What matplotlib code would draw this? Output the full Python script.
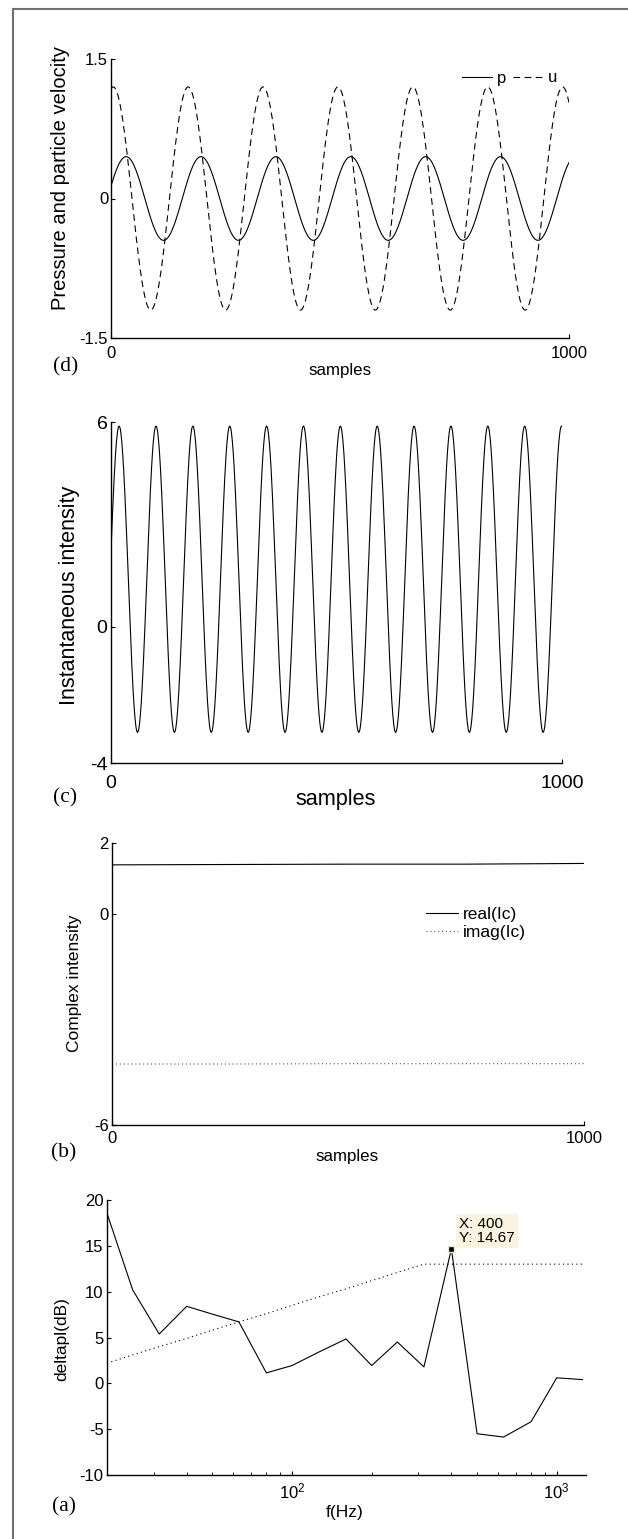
import numpy as np
import matplotlib
matplotlib.use('Agg')
import matplotlib.pyplot as plt
from matplotlib.lines import Line2D

plt.rcParams['font.family'] = ['Liberation Sans', 'DejaVu Sans']
plt.rcParams['mathtext.fontset'] = 'custom'
plt.rcParams['mathtext.rm'] = 'Liberation Sans'
plt.rcParams['axes.unicode_minus'] = False

# (d) pressure / particle velocity: amplitude, period (samples), sample of first peak
samples = np.arange(0, 1001)
p_amp, p_period, p_peak = 0.45, 163.5, 33
u_amp, u_period, u_peak = 1.2, 163.5, 5

# (c) instantaneous intensity
i_mean, i_amp, i_period, i_peak = 1.39, 4.49, 81.75, 18

# (b) complex intensity
ic_samples = [0, 250, 500, 750, 1000]
real_ic = [1.38, 1.39, 1.40, 1.40, 1.42]
imag_ic = [-4.27, -4.27, -4.26, -4.26, -4.26]

# (a) deltapI per third-octave band
freqs = [20, 25, 31.5, 40, 50, 63, 80, 100, 125, 160, 200, 250, 315,
         400, 500, 630, 800, 1000, 1250]
deltapl = [18.55, 10.2, 5.38, 8.4, 7.55, 6.7, 1.14, 1.94, 3.35, 4.84, 1.94,
           4.51, 1.79, 14.67, -5.5, -5.86, -4.19, 0.6, 0.41]
criterion = [2.2, 3.1, 4.0, 4.9, 5.8, 6.7, 7.6, 8.5, 9.4, 10.3, 11.2, 12.1,
             13.0, 13.0, 13.0, 13.0, 13.0, 13.0, 13.0]
tip_f, tip_val = 400, 14.67

W, H = 628, 1539
fig = plt.figure(figsize=(W / 100, H / 100), dpi=100)


def fx(x):
    return x / W


def fy(y):
    return 1 - y / H


def add_ax(l, r, t, b):
    return fig.add_axes([fx(l), fy(b), (r - l) / W, (b - t) / H])


def style(ax, tsize, xpad, ypad):
    for s in ['top', 'right']:
        ax.spines[s].set_visible(False)
    for s in ['left', 'bottom']:
        ax.spines[s].set_linewidth(1.0)
    ax.tick_params(direction='in', length=3, width=0.8, labelsize=tsize)
    ax.tick_params(axis='x', pad=xpad)
    ax.tick_params(axis='y', pad=ypad)


def labels(ax, xl, xs, xpos, yl, ys, ypos):
    ax.set_xlabel(xl, fontsize=xs)
    ax.set_ylabel(yl, fontsize=ys)
    ax.xaxis.label.set_va('center')
    ax.yaxis.label.set_va('center')
    ax.xaxis.set_label_coords(fx(xpos[0]), fy(xpos[1]), transform=fig.transFigure)
    ax.yaxis.set_label_coords(fx(ypos[0]), fy(ypos[1]), transform=fig.transFigure)


def letter(txt, x, y):
    fig.text(fx(x), fy(y), txt, family='Liberation Serif', fontsize=15.5,
             ha='center', va='center')


# ---- (d)
axd = add_ax(111, 569, 59, 338)
p = p_amp * np.cos(2 * np.pi * (samples - p_peak) / p_period)
u = u_amp * np.cos(2 * np.pi * (samples - u_peak) / u_period)
axd.plot(samples, p, color='black', lw=0.8, label='p')
axd.plot(samples, u, color='black', lw=0.8, dashes=(6, 4), label='u')
axd.set_xlim(0, 1000)
axd.set_ylim(-1.5, 1.5)
axd.set_xticks([0, 1000])
axd.set_yticks([-1.5, 0, 1.5])
axd.set_yticklabels(['-1.5', '0', '1.5'])
style(axd, 12, 6, 2)
labels(axd, 'samples', 12.2, (340, 370), 'Pressure and particle velocity', 14.5, (60, 178))
axd.legend(ncol=2, frameon=False, loc='center left', fontsize=12,
           bbox_to_anchor=(fx(462), fy(78)), bbox_transform=fig.transFigure,
           handlelength=1.8, handletextpad=0.3, columnspacing=0.4,
           borderpad=0, borderaxespad=0)
letter('(d)', 66, 367)

# ---- (c)
axc = add_ax(111, 562, 422, 763)
inst = i_mean + i_amp * np.cos(2 * np.pi * (samples - i_peak) / i_period)
axc.plot(samples, inst, color='black', lw=0.8)
axc.set_xlim(0, 1000)
axc.set_ylim(-4, 6)
axc.set_xticks([0, 1000])
axc.set_yticks([-4, 0, 6])
style(axc, 14, 9, 2.5)
labels(axc, 'samples', 15.6, (336, 800), 'Instantaneous intensity', 15.5, (70, 595))
letter('(c)', 65, 798)

# ---- (b)
axb = add_ax(112, 584, 843, 1125)
axb.plot(ic_samples, real_ic, color='black', lw=0.8, label='real(Ic)')
axb.plot(ic_samples, imag_ic, color='#555555', lw=0.8, linestyle=(0, (1, 2.5)),
         label='imag(Ic)')
axb.set_xlim(0, 1000)
axb.set_ylim(-6, 2)
axb.set_xticks([0, 1000])
axb.set_yticks([-6, 0, 2])
style(axb, 12, 4, 2.5)
labels(axb, 'samples', 12.2, (347, 1157), 'Complex intensity', 12.5, (74, 983))
axb.legend(frameon=False, loc='upper left', fontsize=12.5,
           bbox_to_anchor=(fx(426), fy(907)), bbox_transform=fig.transFigure,
           handlelength=1.85, handletextpad=0.25, labelspacing=0.15,
           borderpad=0, borderaxespad=0)
letter('(b)', 64, 1153)

# ---- (a)
axa = add_ax(107, 586, 1200, 1475)
axa.plot(freqs, deltapl, color='black', lw=0.8)
axa.plot(freqs, criterion, color='black', lw=0.8, linestyle=(0, (1, 3)))
axa.set_xscale('log')
axa.set_xlim(20, 1290)
axa.set_ylim(-10, 20)
axa.set_yticks(np.arange(-10, 21, 5))
style(axa, 12, 5, 2.5)
axa.tick_params(which='minor', direction='in', length=2, width=0.6)
labels(axa, 'f(Hz)', 12.5, (345, 1513), 'deltapl(dB)', 12.5, (62, 1339))
axa.plot([tip_f], [tip_val], marker='s', markersize=5, color='black',
         markeredgecolor='#efe6b8', markeredgewidth=1.0)
axa.annotate('X: %d\nY: %.2f' % (tip_f, tip_val), xy=(tip_f, tip_val),
             xytext=(8, 4), textcoords='offset pixels', ha='left', va='bottom',
             fontsize=11, linespacing=1.0,
             bbox=dict(boxstyle='square,pad=0.2', fc='#f8f4e0', ec='none'))
letter('(a)', 64, 1507)

# outer frame (left and top edges only)
fig.add_artist(Line2D([fx(13), fx(13)], [fy(9), 0], transform=fig.transFigure,
                      color='#707070', lw=1.5))
fig.add_artist(Line2D([fx(13), 1], [fy(9), fy(9)], transform=fig.transFigure,
                      color='#707070', lw=1.5))

fig.savefig('out.png', dpi=100)
